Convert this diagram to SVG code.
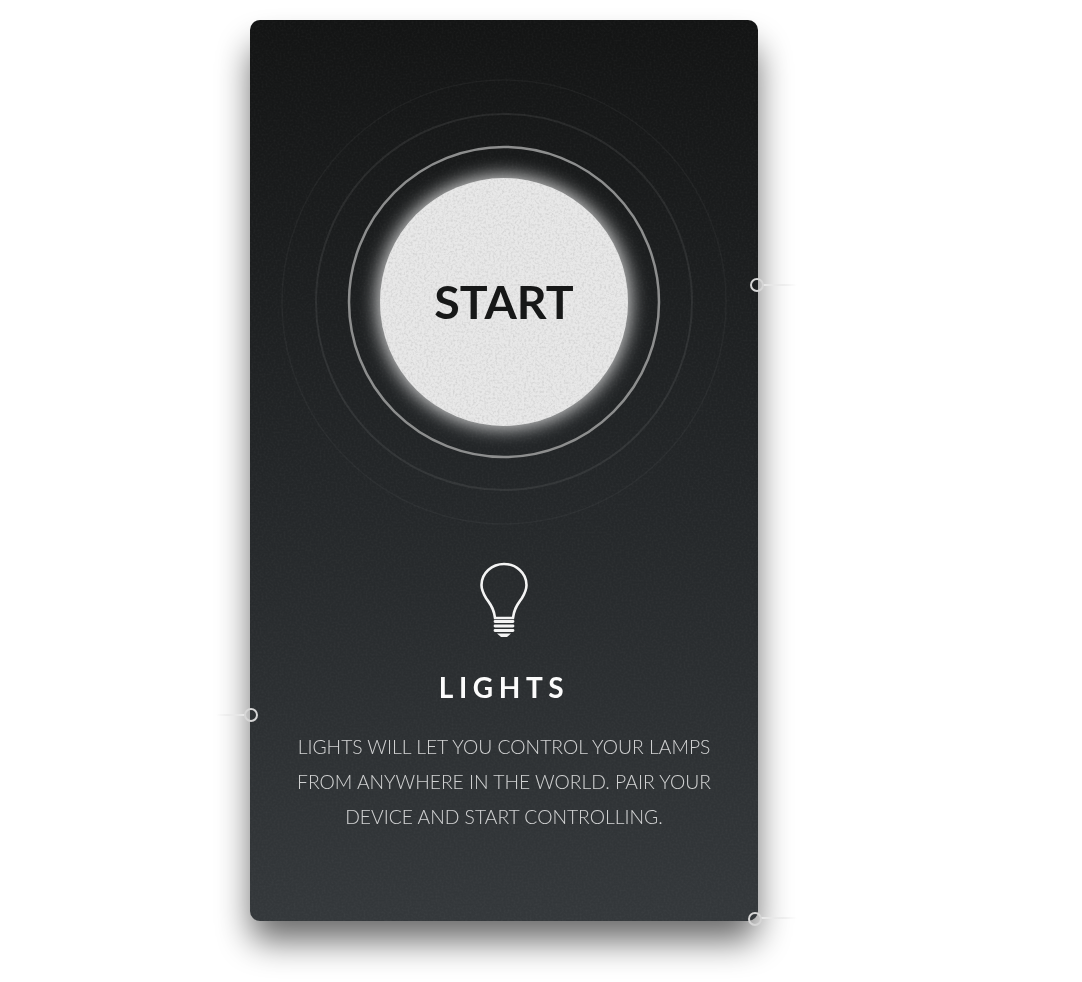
<svg xmlns="http://www.w3.org/2000/svg" width="1082" height="982" viewBox="0 0 1082 982">
<style>
text{font-family:"Lato","Noto Sans",sans-serif;text-anchor:middle}
.body{font-size:19.3px;font-weight:300;fill:#fff}
.ring{fill:none}
.handle{fill:none;stroke:#d6d6d6;stroke-width:2}
.bulb{fill:none;stroke:#f4f4f4;stroke-width:2.6;stroke-linecap:round;stroke-linejoin:round}
</style>
<defs>
<linearGradient id="card" x1="0" y1="0" x2="0" y2="1">
<stop offset="0" stop-color="#131414"/><stop offset=".5" stop-color="#232628"/><stop offset="1" stop-color="#34383b"/>
</linearGradient>
<linearGradient id="fadeR"><stop offset="0" stop-color="#e8e8e8"/><stop offset=".6" stop-color="#e8e8e8" stop-opacity=".7"/><stop offset="1" stop-color="#e8e8e8" stop-opacity="0"/></linearGradient>
<linearGradient id="fadeL"><stop offset="0" stop-color="#e8e8e8" stop-opacity="0"/><stop offset=".4" stop-color="#e8e8e8" stop-opacity=".7"/><stop offset="1" stop-color="#e8e8e8"/></linearGradient>
<filter id="shadow" x="-30%" y="-20%" width="160%" height="140%"><feGaussianBlur stdDeviation="17"/></filter>
<filter id="glow" x="-30%" y="-30%" width="160%" height="160%"><feGaussianBlur stdDeviation="9"/></filter>
<filter id="noise" x="0" y="0" width="100%" height="100%" color-interpolation-filters="sRGB">
<feTurbulence type="fractalNoise" baseFrequency=".45" numOctaves="2" seed="4"/>
<feColorMatrix values="0 0 0 0 .82  0 0 0 0 .82  0 0 0 0 .82  0 0 0 2.2 -.95"/>
<feComposite in2="SourceAlpha" operator="in"/>
<feMerge><feMergeNode in="SourceGraphic"/><feMergeNode/></feMerge>
</filter>
<filter id="grain" x="0" y="0" width="100%" height="100%" color-interpolation-filters="sRGB">
<feTurbulence type="fractalNoise" baseFrequency=".5" numOctaves="2" seed="9"/>
<feColorMatrix values="0 0 0 0 1  0 0 0 0 1  0 0 0 0 1  0 0 0 .07 -.025"/>
<feComposite in2="SourceAlpha" operator="in"/>
<feMerge><feMergeNode in="SourceGraphic"/><feMergeNode/></feMerge>
</filter>
</defs>
<rect width="1082" height="982" fill="#fff"/>
<g id="card-panel">
<rect x="251" y="46" width="506" height="895" rx="12" fill="#000" opacity=".58" filter="url(#shadow)"/>
<rect x="250" y="20" width="508" height="901" rx="10" fill="url(#card)" filter="url(#grain)"/>
</g>
<g id="start-button">
<circle class="ring" cx="504" cy="302" r="222" stroke="#fff" stroke-opacity=".04" stroke-width="1.5"/>
<circle class="ring" cx="504" cy="302" r="188" stroke="#fff" stroke-opacity=".075" stroke-width="2"/>
<circle class="ring" cx="504" cy="302" r="155" stroke="#8d8e8e" stroke-width="2.5"/>
<circle cx="504" cy="302" r="127" fill="#fff" opacity=".8" filter="url(#glow)"/>
<circle cx="504" cy="302" r="124" fill="#e8e8e8" filter="url(#noise)"/>
<g opacity=".99"><text x="504" y="319" font-size="46.5" font-weight="700" fill="#151616">START</text></g>
</g>
<g id="lights-icon">
<path class="bulb" d="M495 618C494 608 490 604 486 598C483 593 481.5 589 481.5 585C481.5 573 492 564 504 564C516 564 526.5 573 526.5 585C526.5 589 525 593 522 598C518 604 514 608 513 618Z"/>
<g stroke="#f4f4f4" stroke-width="2.8" stroke-linecap="round"><path d="M495 621.5H513M495 626H513M495 630.5H513"/></g>
<path d="M497 633.5H511L507 637H501Z" fill="#f4f4f4"/>
</g>
<g id="lights-title" opacity=".99">
<text x="504" y="697.5" font-size="28" font-weight="700" fill="#fff" style="letter-spacing:5.6px">LIGHTS</text>
</g>
<g id="lights-description" opacity=".78">
<text class="body" x="504" y="754">LIGHTS WILL LET YOU CONTROL YOUR LAMPS</text>
<text class="body" x="504" y="789">FROM ANYWHERE IN THE WORLD. PAIR YOUR</text>
<text class="body" x="504" y="824">DEVICE AND START CONTROLLING.</text>
</g>
<g id="connectors">
<path d="M763 284h34v2h-34z" fill="url(#fadeR)"/>
<path d="M216 714h29v2h-29z" fill="url(#fadeL)"/>
<path d="M761 917h36v2h-36z" fill="url(#fadeR)"/>
</g>
<g id="handle-right"><circle class="handle" cx="757" cy="285" r="6"/></g>
<g id="handle-left"><circle class="handle" cx="251" cy="715" r="6"/></g>
<g id="handle-bottom"><circle class="handle" cx="755" cy="919" r="6"/></g>
</svg>
